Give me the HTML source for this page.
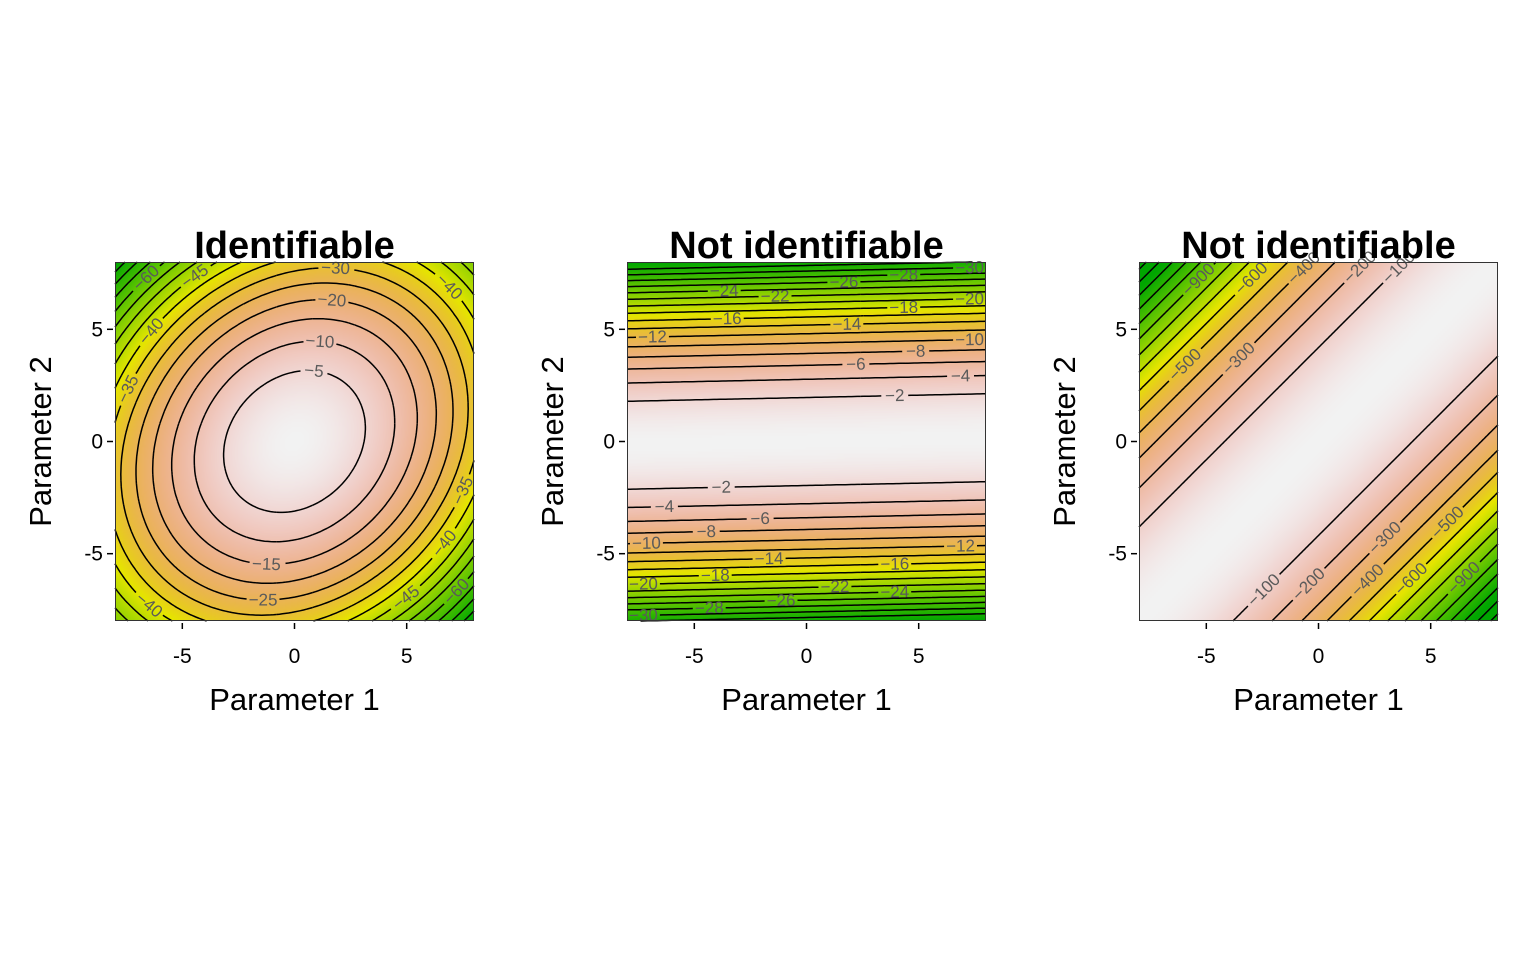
<!DOCTYPE html>
<html><head><meta charset="utf-8">
<style>
body{margin:0;background:#fff;width:1536px;height:960px;overflow:hidden;position:relative;font-family:"Liberation Sans",Arial,sans-serif;}
canvas{position:absolute;}
svg{position:absolute;left:0;top:0;}
</style></head>
<body>
<canvas id="c0" width="180" height="180" style="left:115px;top:262px;width:359px;height:359px"></canvas>
<canvas id="c1" width="180" height="180" style="left:627px;top:262px;width:359px;height:359px"></canvas>
<canvas id="c2" width="180" height="180" style="left:1139px;top:262px;width:359px;height:359px"></canvas>
<svg id="s" width="1536" height="960"></svg>
<script>
// ---- data ----
const panelTitles = ["Identifiable","Not identifiable","Not identifiable"];
const panelLefts = [115,627,1139];
const xTicks = [-5,0,5];
const yTicks = [-5,0,5];
const axisRange = [-8,8];
const p1Coef = [0.52,0.52,0.2];         // a*x^2 + b*y^2 - c*x*y
const p2Coef = [0.52,0.021];            // k*(y - t*x)^2
const p3Coef = [5.7];                   // k*(x-y)^2
const colorFloor = [null,null,-1250];
const levels1 = [-5,-10,-15,-20,-25,-30,-35,-40,-45,-50,-55,-60,-65,-70,-75,-80];
const levels2 = [-2,-4,-6,-8,-10,-12,-14,-16,-18,-20,-22,-24,-26,-28,-30,-32];
const levels3 = [-100,-200,-300,-400,-500,-600,-700,-800,-900,-1000,-1100,-1200,-1300,-1400];
// label placement hints (level -> approximate label spots, data units)
const labelHints1 = {"-5":[[0.8,2.9]],"-10":[[1.1,4.2]],"-15":[[-1.2,-5.3]],"-20":[[1.6,6.1]],"-25":[[-1.4,-7]],"-30":[[1.8,7.6]],
  "-35":[[-7.4,2.4],[7.5,-1.6]],"-40":[[-6.5,5],[6.8,6.8],[-6.5,-7.3],[6.6,-4.5]],"-45":[[-4.4,7.4],[5.2,-7.2]],"-60":[[-6.6,7.2],[7.2,-6.7]]};
const labelHints2 = {"-2":[[4,2],[-3.8,-2]],"-4":[[6.9,2.9],[-6.3,-2.9]],"-6":[[2.2,3.5],[-2.1,-3.5]],"-8":[[4.9,4],[-4.5,-4.1]],
  "-10":[[7.3,4.6],[-7.2,-4.5]],"-12":[[-6.9,4.8],[6.9,-4.7]],"-14":[[1.8,5.3],[-1.7,-5.3]],"-16":[[-3.5,5.7],[4,-5.6]],
  "-18":[[4.3,6.1],[-4.1,-6.1]],"-20":[[7.3,6.5],[-7.3,-6.3]],"-22":[[-1.4,6.7],[1.3,-6.6]],"-24":[[-3.7,7],[3.9,-6.8]],
  "-26":[[1.6,7.2],[-1.1,-7.2]],"-28":[[4.3,7.5],[-4.3,-7.5]],"-30":[[7.3,7.8],[-7.3,-7.7]]};
const labelHints3 = {"-100":[[5.3,6.6],[-2.5,-6.6]],"-200":[[2.8,6.8],[0,-6.8]],"-300":[[-3.5,3.6],[2.3,-3.7]],"-400":[[0.3,6.8],[2.8,-6.8]],
  "-500":[[-6,3.5],[5.6,-3.5]],"-600":[[-2.5,6.8],[4.8,-6.8]],"-900":[[-5,6.8],[7,-6.6]]};

const funcs = [
  (x,y)=>-(p1Coef[0]*x*x+p1Coef[1]*y*y-p1Coef[2]*x*y),
  (x,y)=>{const d=y-p2Coef[1]*x;return -p2Coef[0]*d*d;},
  (x,y)=>{const u=x-y;return -p3Coef[0]*u*u;}
];
const allLevels=[levels1,levels2,levels3];
const allHints=[labelHints1,labelHints2,labelHints3];

const NS="http://www.w3.org/2000/svg";
const svg=document.getElementById('s');
function mk(tag,attrs,parent){const e=document.createElementNS(NS,tag);for(const k in attrs)e.setAttribute(k,attrs[k]);(parent||svg).appendChild(e);return e;}

function hsv(h,s,v){const i=Math.floor(h*6),f=h*6-i,p=v*(1-s),q=v*(1-f*s),t=v*(1-(1-f)*s);let r,g,b;
 switch(((i%6)+6)%6){case 0:r=v;g=t;b=p;break;case 1:r=q;g=v;b=p;break;case 2:r=p;g=v;b=t;break;case 3:r=p;g=q;b=v;break;case 4:r=t;g=p;b=v;break;default:r=v;g=p;b=q;}
 return [r*255,g*255,b*255];}
function terrain(t){t=Math.max(0,Math.min(1,t));
 if(t<0.5){const u=t/0.5;return hsv(4/12-u*2/12,1,0.65+0.25*u);}
 const u=(t-0.5)/0.5;return hsv(2/12*(1-u),1-u,0.9+0.05*u);}

const W=359,T=262,lo=axisRange[0],hi=axisRange[1];
for(let p=0;p<3;p++){
  const L=panelLefts[p],f=funcs[p];
  const X=x=>L+(x-lo)/(hi-lo)*W, Y=y=>T+(hi-y)/(hi-lo)*W;
  const cv=document.getElementById('c'+p),ctx=cv.getContext('2d'),N=180;
  const vals=[];let zmin=1e9,zmax=-1e9;
  for(let j=0;j<N;j++)for(let i=0;i<N;i++){const x=lo+(i+0.5)/N*(hi-lo),y=hi-(j+0.5)/N*(hi-lo);const z=f(x,y);vals.push(z);zmin=Math.min(zmin,z);zmax=Math.max(zmax,z);}
  if(colorFloor[p]!==null)zmin=colorFloor[p];
  const img=ctx.createImageData(N,N);
  vals.forEach((z,k)=>{const c=terrain((z-zmin)/(zmax-zmin));img.data[k*4]=c[0];img.data[k*4+1]=c[1];img.data[k*4+2]=c[2];img.data[k*4+3]=255;});
  ctx.putImageData(img,0,0);
  const g=mk('g',{});
  
  
  const M=120,h=(hi-lo)/M,grid=[];
  for(let j=0;j<=M;j++){grid.push([]);for(let i=0;i<=M;i++)grid[j].push(f(lo+i*h,lo+j*h));}
  allLevels[p].forEach((lv)=>{
    const segs=[];
    for(let j=0;j<M;j++)for(let i=0;i<M;i++){
      const z00=grid[j][i],z10=grid[j][i+1],z01=grid[j+1][i],z11=grid[j+1][i+1];
      const pts=[];
      const ed=(za,zb,xa,ya,xb,yb)=>{if((za-lv)*(zb-lv)<0){const t=(lv-za)/(zb-za);pts.push([xa+(xb-xa)*t,ya+(yb-ya)*t]);}};
      const x0=lo+i*h,y0=lo+j*h;
      ed(z00,z10,x0,y0,x0+h,y0);
      ed(z10,z11,x0+h,y0,x0+h,y0+h);
      ed(z01,z11,x0,y0+h,x0+h,y0+h);
      ed(z00,z01,x0,y0,x0,y0+h);
      for(let k=0;k+1<pts.length;k+=2)segs.push([pts[k],pts[k+1]]);
    }
    if(!segs.length)return;
    const label='\u2212'+Math.abs(lv);
    const hw=label.length*4.6+4,hh=8;
    const boxes=[];
    (allHints[p][String(lv)]||[]).forEach(an=>{
      let best=-1,bd=1e18;
      segs.forEach((s,k)=>{const mx=(s[0][0]+s[1][0])/2,my=(s[0][1]+s[1][1])/2;
        if(Math.abs(mx)>7.5||Math.abs(my)>7.8)return;
        const d=(mx-an[0])**2+(my-an[1])**2;if(d<bd){bd=d;best=k;}});
      if(best<0||bd>6)return;
      const s=segs[best];const cx=X((s[0][0]+s[1][0])/2),cy=Y((s[0][1]+s[1][1])/2);
      let ang=Math.atan2(Y(s[1][1])-Y(s[0][1]),X(s[1][0])-X(s[0][0]))*180/Math.PI;
      if(ang>90)ang-=180;if(ang<-90)ang+=180;
      boxes.push([cx,cy,ang*Math.PI/180]);
    });
    let d='';
    segs.forEach(s=>{
      const ax=X(s[0][0]),ay=Y(s[0][1]),bx=X(s[1][0]),by=Y(s[1][1]);
      const mx=(ax+bx)/2,my=(ay+by)/2;
      for(const b of boxes){const dx=mx-b[0],dy=my-b[1];const u=dx*Math.cos(b[2])+dy*Math.sin(b[2]),v=-dx*Math.sin(b[2])+dy*Math.cos(b[2]);if(Math.abs(u)<hw&&Math.abs(v)<hh)return;}
      d+='M'+ax.toFixed(1)+' '+ay.toFixed(1)+'L'+bx.toFixed(1)+' '+by.toFixed(1);
    });
    const path=mk('path',{d:d,stroke:'#000','stroke-width':1.5,fill:'none'},g);
    
    
    boxes.forEach(b=>{
      const t=mk('text',{x:b[0],y:b[1],'font-size':17,fill:'#5a5a5a','text-anchor':'middle','dominant-baseline':'central',transform:'rotate('+(b[2]*180/Math.PI).toFixed(1)+' '+b[0].toFixed(1)+' '+b[1].toFixed(1)+')'},g);
      t.textContent=label;
      
      
    });
  });
  const fr=mk('rect',{x:L+0.5,y:T+0.5,width:W-1,height:W-1,fill:'none',stroke:'#333','stroke-width':1},g);
  
  
  xTicks.forEach(v=>{
    const ln=mk('line',{x1:X(v),x2:X(v),y1:T+W+2,y2:T+W+8,stroke:'#000','stroke-width':1.5},g);
    
    
    const t=mk('text',{x:X(v),y:663,'font-size':21,'text-anchor':'middle'},g);t.textContent=v;
    
    
  });
  yTicks.forEach(v=>{
    const ln=mk('line',{x1:L-8,x2:L-2,y1:Y(v),y2:Y(v),stroke:'#000','stroke-width':1.5},g);
    
    
    const t=mk('text',{x:L-12,y:Y(v)+7,'font-size':21,'text-anchor':'end'},g);t.textContent=v;
    
    
  });
  const ti=mk('text',{x:L+W/2,y:258,'font-size':38,'font-weight':'bold','text-anchor':'middle'},g);ti.textContent=panelTitles[p];
  
  
  const xl=mk('text',{x:L+W/2,y:710,'font-size':31,'text-anchor':'middle'},g);xl.textContent='Parameter 1';
  
  
  const yx=L-64,yy=T+W/2;
  const yl=mk('text',{x:yx,y:yy,'font-size':31,'text-anchor':'middle',transform:'rotate(-90 '+yx+' '+yy+')'},g);yl.textContent='Parameter 2';
  
  
}
</script>
</body></html>
